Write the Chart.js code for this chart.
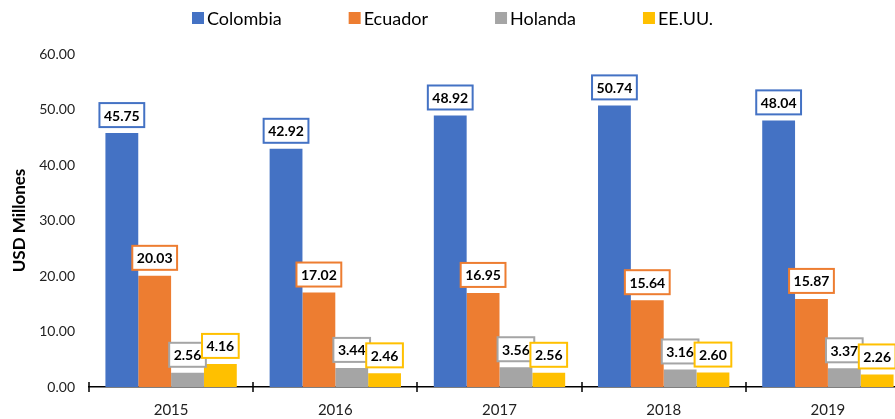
<!DOCTYPE html>
<html>
<head>
<meta charset="utf-8">
<script src="https://cdn.jsdelivr.net/npm/chart.js@4.4.1/dist/chart.umd.min.js"></script>
<style>
  html, body { margin: 0; padding: 0; background: #fff; overflow: hidden; }
  #wrap { width: 910px; height: 419px; }
</style>
</head>
<body>
<div id="wrap"><canvas id="chart" width="910" height="419"></canvas></div>
<script>
// datos
const years = ['2015', '2016', '2017', '2018', '2019'];
const colombia = [45.75, 42.92, 48.92, 50.74, 48.04];
const ecuador = [20.03, 17.02, 16.95, 15.64, 15.87];
const holanda = [2.56, 3.44, 3.56, 3.16, 3.37];
const eeuu = [4.16, 2.46, 2.56, 2.60, 2.26];

const FONT = 'Lato, "Open Sans", sans-serif';

// etiquetas con recuadro encima de cada barra
const boxLabels = {
    id: 'boxLabels',
    afterDatasetsDraw(chart) {
        const c = chart.ctx;
        c.save();
        c.font = 'bold 14px ' + FONT;
        c.textAlign = 'center';
        c.textBaseline = 'middle';
        chart.data.datasets.forEach((ds, i) => {
            const meta = chart.getDatasetMeta(i);
            meta.data.forEach((bar, j) => {
                const txt = ds.data[j].toFixed(2);
                const w = c.measureText(txt).width + 9;
                const h = 24;
                const bottom = bar.y - 6;
                const x0 = bar.x - w / 2;
                c.fillStyle = '#fff';
                c.fillRect(x0, bottom - h, w, h);
                c.strokeStyle = ds.backgroundColor;
                c.lineWidth = 2;
                c.strokeRect(x0, bottom - h, w, h);
                c.fillStyle = '#000';
                c.fillText(txt, bar.x, bottom - h / 2 + 1);
            });
        });
        c.restore();
    }
};

// marcas del eje x que cruzan la linea
const axisTicks = {
    id: 'axisTicks',
    afterDraw(chart) {
        const xs = chart.scales.x;
        const c = chart.ctx;
        const step = xs.getPixelForValue(1) - xs.getPixelForValue(0);
        const y = xs.top;
        c.save();
        c.strokeStyle = '#000';
        c.lineWidth = 1.5;
        for (let i = 0; i <= years.length; i++) {
            const x = Math.round(xs.getPixelForValue(0) - step / 2 + i * step);
            c.beginPath();
            c.moveTo(x, y - 5);
            c.lineTo(x, y + 5);
            c.stroke();
        }
        c.restore();
    }
};

// leyenda arriba
const topLegend = {
    id: 'topLegend',
    afterDraw(chart) {
        const c = chart.ctx;
        c.save();
        c.font = '18px ' + FONT;
        c.textBaseline = 'middle';
        let x = 192;
        const y = 18;
        chart.data.datasets.forEach(ds => {
            c.fillStyle = ds.backgroundColor;
            c.fillRect(x, y - 6, 12, 12);
            c.fillStyle = '#000';
            c.fillText(ds.label, x + 15, y + 1);
            x += 15 + c.measureText(ds.label).width + 67;
        });
        c.restore();
    }
};

new Chart(document.getElementById('chart'), {
    type: 'bar',
    data: {
        labels: years,
        datasets: [
            { label: 'Colombia', data: colombia, backgroundColor: '#4472C4' },
            { label: 'Ecuador', data: ecuador, backgroundColor: '#ED7D31' },
            { label: 'Holanda', data: holanda, backgroundColor: '#A5A5A5' },
            { label: 'EE.UU.', data: eeuu, backgroundColor: '#FFC000' }
        ]
    },
    options: {
        responsive: false,
        animation: false,
        datasets: { bar: { categoryPercentage: 0.8, barPercentage: 1.0 } },
        layout: { padding: { top: 54, right: 0, left: 0, bottom: 0 } },
        plugins: {
            legend: { display: false },
            tooltip: { enabled: false }
        },
        scales: {
            x: {
                grid: { display: false, tickLength: 0 },
                border: { display: true, color: '#000', width: 1.5 },
                ticks: { color: '#222', font: { family: FONT, size: 15 }, padding: 14 },
                afterFit(scale) { scale.height = 32; }
            },
            y: {
                min: 0,
                max: 60,
                grid: { display: false, tickLength: 0 },
                border: { display: false },
                ticks: {
                    stepSize: 10,
                    color: '#222',
                    padding: 14,
                    font: { family: FONT, size: 14 },
                    callback: v => v.toFixed(2)
                },
                title: {
                    display: true,
                    text: 'USD Millones',
                    color: '#000',
                    font: { family: FONT, size: 17, weight: 'bold' },
                    padding: { top: 9, bottom: 0 }
                },
                afterFit(scale) { scale.width = 89; }
            }
        }
    },
    plugins: [boxLabels, axisTicks, topLegend]
});
</script>
</body>
</html>
